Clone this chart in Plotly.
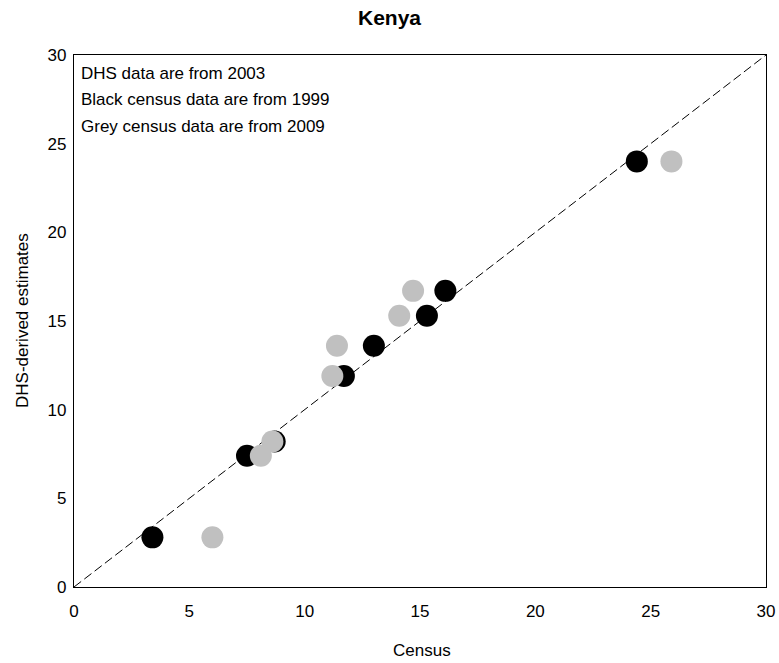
import plotly.graph_objects as go

dhs_estimates = [2.8, 7.4, 8.2, 11.9, 13.6, 15.3, 16.7, 24.0]
census_1999 = [3.4, 7.5, 8.7, 11.7, 13.0, 15.3, 16.1, 24.4]
census_2009 = [6.0, 8.1, 8.6, 11.2, 11.4, 14.1, 14.7, 25.9]
diag = [0, 30]
tick_values = [0, 5, 10, 15, 20, 25, 30]
notes = ["DHS data are from 2003", "Black census data are from 1999", "Grey census data are from 2009"]

FONT = "Liberation Sans, Arial, Helvetica, sans-serif"

fig = go.Figure()
fig.add_trace(go.Scatter(x=diag, y=diag, mode="lines",
                         line=dict(color="black", width=1, dash="9px,4px"),
                         showlegend=False, hoverinfo="skip"))
fig.add_trace(go.Scatter(x=census_1999, y=dhs_estimates, mode="markers",
                         marker=dict(color="black", size=22, line=dict(width=0)),
                         showlegend=False))
fig.add_trace(go.Scatter(x=census_2009, y=dhs_estimates, mode="markers",
                         marker=dict(color="#c0c0c0", size=22, line=dict(width=0)),
                         showlegend=False))

for i, t in enumerate(notes):
    fig.add_annotation(xref="paper", yref="paper", x=0.0, y=1.0, xanchor="left", yanchor="middle",
                       xshift=5, yshift=-18 - 26.5 * i, text=t, showarrow=False,
                       font=dict(family=FONT, size=17, color="black"))

# title and axis titles
fig.add_annotation(xref="paper", yref="paper", x=(389.5 - 74) / 692, y=1.0, xanchor="center", yanchor="middle",
                   yshift=38, text="<b>Kenya</b>", showarrow=False,
                   font=dict(family=FONT, size=21, color="black"))
fig.add_annotation(xref="paper", yref="paper", x=0.5, y=0.0, xanchor="center", yanchor="middle",
                   yshift=-63, xshift=2, text="Census", showarrow=False,
                   font=dict(family=FONT, size=17, color="black"))
fig.add_annotation(xref="paper", yref="paper", x=0.0, y=0.5, xanchor="center", yanchor="middle",
                   xshift=-52, text="DHS-derived estimates", textangle=-90, showarrow=False,
                   font=dict(family=FONT, size=17, color="black"))

axis_common = dict(range=[0, 30], tickvals=tick_values, showgrid=False, zeroline=False,
                   showline=True, linecolor="black", linewidth=1.3, mirror=True, ticks="",
                   automargin=False,
                   tickfont=dict(family=FONT, size=17, color="black"))

fig.update_layout(
    width=779, height=663,
    margin=dict(l=74, r=13, t=55, b=76),
    plot_bgcolor="white", paper_bgcolor="white",
    xaxis=dict(**axis_common, ticklabelstandoff=8),
    yaxis=dict(**axis_common, ticklabelstandoff=3),
)

fig.write_html("out.html", config={"displayModeBar": False},
               post_script="document.body.style.margin='0';document.body.style.overflow='hidden';")
